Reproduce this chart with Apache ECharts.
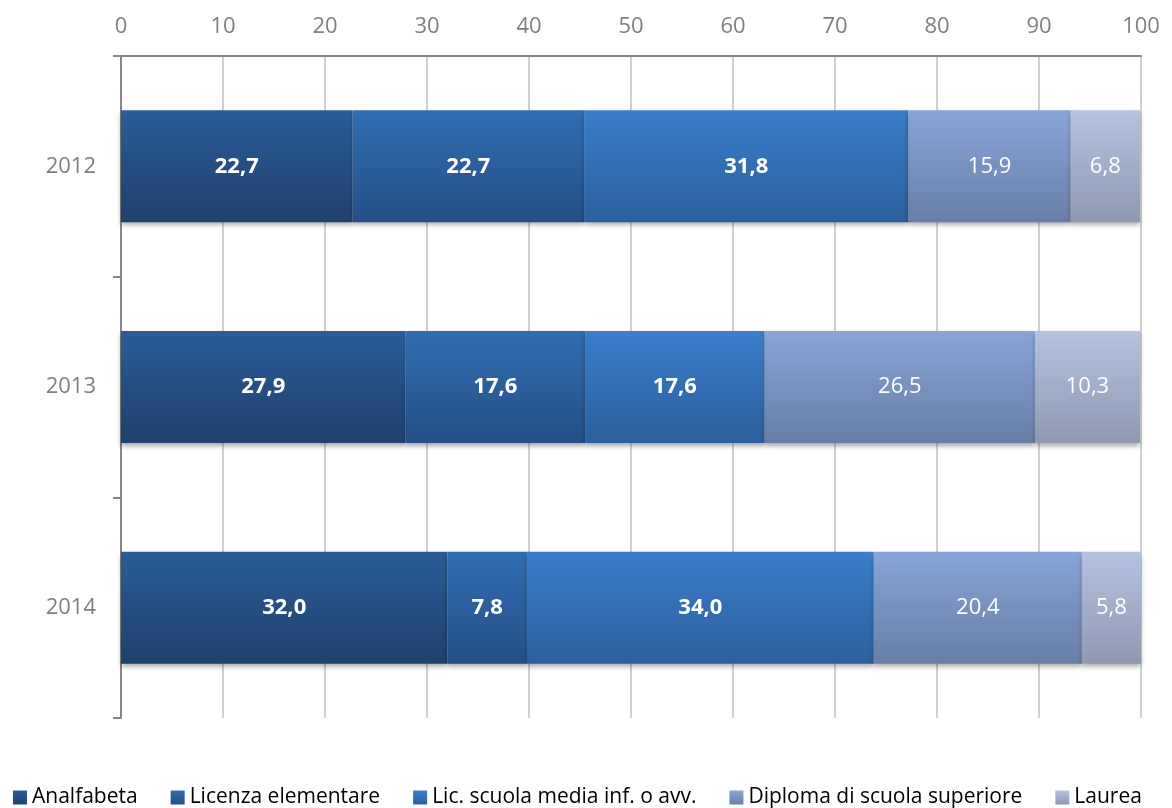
<!DOCTYPE html>
<html>
<head>
<meta charset="utf-8">
<script src="https://cdn.jsdelivr.net/npm/echarts@6/dist/echarts.min.js"></script>
<style>
  html, body { margin: 0; padding: 0; background: #fff; }
  #main { width: 1172px; height: 808px; }
</style>
</head>
<body>
<div id="main"></div>
<script>
// dati del grafico
var years = ['2012', '2013', '2014'];
var seriesNames = ['Analfabeta', 'Licenza elementare', 'Lic. scuola media inf. o avv.', 'Diploma di scuola superiore', 'Laurea'];
var analfabeta = [22.7, 27.9, 32.0];
var licenzaElem = [22.7, 17.6, 7.8];
var licMedia = [31.8, 17.6, 34.0];
var diploma = [15.9, 26.5, 20.4];
var laurea = [6.8, 10.3, 5.8];
var xTicks = [0, 10, 20, 30, 40, 50, 60, 70, 80, 90, 100];

var values = [analfabeta, licenzaElem, licMedia, diploma, laurea];
// colori sfumati (alto, basso)
var colors = [
    ['#2b5c98', '#1f416d'],
    ['#316db2', '#254f86'],
    ['#3b7ecb', '#2c5f9d'],
    ['#87a5d6', '#687ea6'],
    ['#b4c3e1', '#8f98b0']
];
var boldLabel = [true, true, true, false, false];

var myChart = echarts.init(document.getElementById('main'));

function grad(c) {
    return new echarts.graphic.LinearGradient(0, 0, 0, 1, [
        {offset: 0, color: c[0]},
        {offset: 1, color: c[1]}
    ]);
}

var series = [];
for (var i = 0; i < values.length; i++) {
    series.push({
        name: seriesNames[i],
        type: 'bar',
        stack: 'tot',
        barWidth: 112,
        data: values[i],
        itemStyle: {
            color: grad(colors[i]),
            shadowColor: 'rgba(0,0,0,0.35)',
            shadowBlur: 5,
            shadowOffsetY: 3
        },
        label: {
            show: true,
            position: 'inside',
            color: '#fff',
            fontSize: 22,
            fontFamily: 'Open Sans',
            fontWeight: boldLabel[i] ? 'bold' : 'normal',
            formatter: function (p) {
                return p.value.toFixed(1).replace('.', ',');
            }
        }
    });
}

myChart.setOption({
    animation: false,
    textStyle: {fontFamily: 'Open Sans'},
    grid: {left: 121, right: 31, top: 56, bottom: 90},
    legend: {
        data: seriesNames,
        left: 8,
        top: 782,
        icon: 'rect',
        itemWidth: 14,
        itemHeight: 14,
        itemGap: 33,
        textStyle: {fontSize: 21, color: '#000', fontFamily: 'Open Sans'}
    },
    xAxis: {
        type: 'value',
        position: 'top',
        min: 0,
        max: 100,
        interval: 10,
        axisLine: {show: true, lineStyle: {color: '#868686', width: 2}},
        axisTick: {show: false},
        axisLabel: {color: '#7f7f7f', fontSize: 22, margin: 18,
            formatter: function (v) { return xTicks.indexOf(v) >= 0 ? String(v) : ''; }},
        splitLine: {show: true, lineStyle: {color: '#d0d0d0', width: 2}}
    },
    yAxis: {
        type: 'category',
        inverse: true,
        data: years,
        axisLine: {show: true, lineStyle: {color: '#868686', width: 2}},
        axisTick: {show: true, length: 8, lineStyle: {color: '#868686', width: 2}},
        axisLabel: {color: '#7f7f7f', fontSize: 22, margin: 25}
    },
    series: series
});
</script>
</body>
</html>
